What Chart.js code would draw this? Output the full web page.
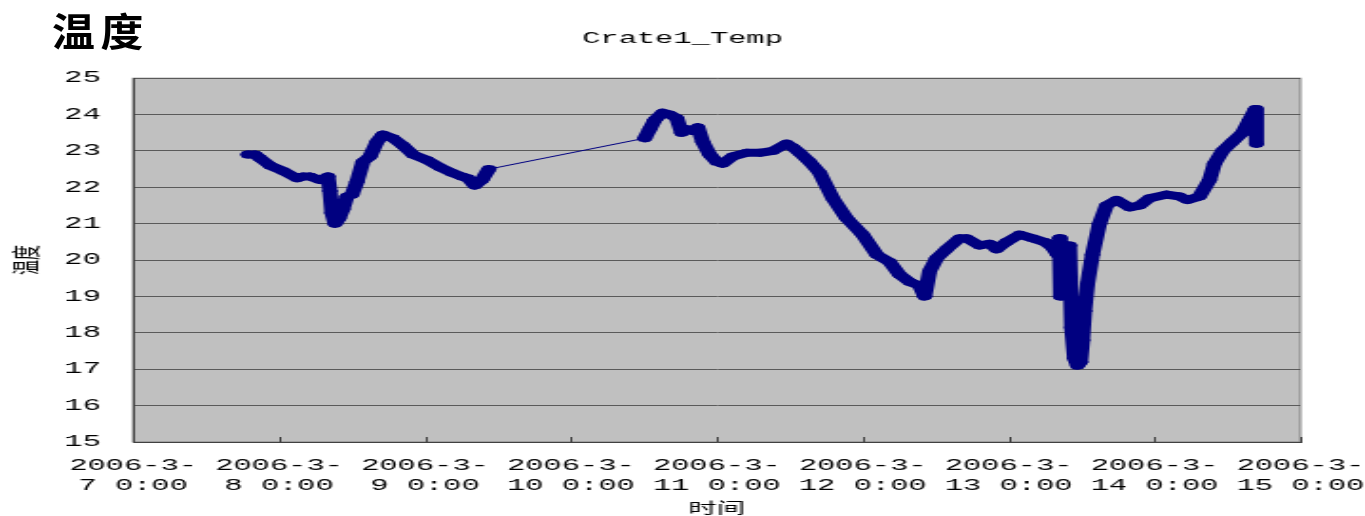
<!DOCTYPE html>
<html>
<head>
<meta charset="utf-8">
<script src="https://cdn.jsdelivr.net/npm/chart.js@4.4.1/dist/chart.umd.min.js"></script>
<style>
  body { margin: 0; background: #fff; }
  #wrap { position: relative; width: 1365px; height: 516px; overflow: hidden; }
  #bigTitle {
    position: absolute; left: 52px; top: 10px;
    font: 700 39px "Noto Sans CJK SC", sans-serif; line-height: 1;
    letter-spacing: 5px; color: #000;
    transform: scaleX(1.1); transform-origin: left top;
  }
</style>
</head>
<body>
<div id="wrap">
  <canvas id="chart" width="718" height="516" style="width:1365px;height:516px;display:block"></canvas>
  <div id="bigTitle">温度</div>
</div>
<script>
// x axis: days of March 2006 (fraction of day), y: temperature
const tickLabels = ['2006-3-7 0:00', '2006-3-8 0:00', '2006-3-9 0:00', '2006-3-10 0:00', '2006-3-11 0:00',
  '2006-3-12 0:00', '2006-3-13 0:00', '2006-3-14 0:00', '2006-3-15 0:00'];

const times = [7.788, 7.836, 7.870, 7.938, 8.027, 8.123, 8.164, 8.212, 8.281, 8.336,
  8.349, 8.363, 8.384, 8.411, 8.438, 8.466, 8.500, 8.534, 8.575, 8.623,
  8.671, 8.712, 8.781, 8.849, 8.918, 9.014, 9.103, 9.185, 9.253, 9.295,
  9.342, 9.390, 9.438,
  10.507, 10.541, 10.575, 10.630, 10.678, 10.726, 10.760, 10.795, 10.836, 10.870,
  10.904, 10.952, 11.000, 11.041, 11.110, 11.205, 11.295, 11.384, 11.479, 11.521,
  11.568, 11.637, 11.705, 11.795, 11.890, 12.000, 12.096, 12.185, 12.253, 12.322,
  12.390, 12.425, 12.459, 12.507, 12.575, 12.664, 12.712, 12.801, 12.870, 12.918,
  12.986, 13.075, 13.164, 13.247, 13.301, 13.336, 13.349, 13.356, 13.384, 13.404,
  13.418, 13.432, 13.452, 13.473, 13.493, 13.507, 13.521, 13.541, 13.575, 13.623,
  13.671, 13.740, 13.829, 13.897, 13.966, 14.082, 14.171, 14.226, 14.308, 14.377,
  14.411, 14.466, 14.534, 14.603, 14.651, 14.692, 14.699];

const temps = [22.9, 22.9, 22.8, 22.6, 22.45, 22.25, 22.3, 22.3, 22.2, 22.3,
  21.9, 21.3, 21.0, 21.15, 21.4, 21.75, 21.8, 22.15, 22.7, 22.85,
  23.25, 23.45, 23.35, 23.15, 22.9, 22.75, 22.55, 22.4, 22.3, 22.25,
  22.05, 22.2, 22.5,
  23.35, 23.6, 23.85, 24.05, 24.0, 23.9, 23.5, 23.6, 23.55, 23.65,
  23.25, 22.9, 22.7, 22.65, 22.85, 22.95, 22.95, 23.0, 23.2, 23.1,
  22.95, 22.7, 22.4, 21.7, 21.15, 20.7, 20.15, 19.95, 19.6, 19.4,
  19.3, 19.0, 19.7, 20.05, 20.3, 20.6, 20.6, 20.4, 20.45, 20.3,
  20.5, 20.7, 20.6, 20.5, 20.35, 20.15, 20.6, 19.0, 19.8, 19.15,
  20.4, 18.15, 17.3, 17.1, 17.2, 17.8, 18.6, 19.35, 20.15, 21.0,
  21.5, 21.65, 21.45, 21.5, 21.7, 21.8, 21.75, 21.65, 21.75, 22.2,
  22.65, 23.0, 23.25, 23.5, 23.85, 24.15, 23.2];

const points = times.map((t, i) => ({ x: t, y: temps[i] }));
const mono = 'Liberation Mono';

// grey plot area, border and the little inner ticks on the x axis
const plotArea = {
  id: 'plotArea',
  beforeDraw(chart) {
    const { ctx, chartArea: a } = chart;
    ctx.save();
    ctx.fillStyle = '#c0c0c0';
    ctx.fillRect(a.left, a.top, a.right - a.left, a.bottom - a.top);
    ctx.strokeStyle = '#808080';
    ctx.lineWidth = 1;
    ctx.strokeRect(a.left, a.top, a.right - a.left, a.bottom - a.top);
    ctx.restore();
  },
  afterDraw(chart) {
    const { ctx, chartArea: a, scales } = chart;
    ctx.save();
    ctx.strokeStyle = '#404040';
    ctx.lineWidth = 1;
    scales.x.ticks.forEach(t => {
      const px = Math.round(scales.x.getPixelForValue(t.value)) + 0.5;
      ctx.beginPath();
      ctx.moveTo(px, a.bottom);
      ctx.lineTo(px, a.bottom - 5);
      ctx.stroke();
    });
    ctx.restore();
  }
};

new Chart(document.getElementById('chart'), {
  type: 'line',
  data: {
    datasets: [{
      label: 'Crate1_Temp',
      data: points,
      borderColor: '#000080',
      backgroundColor: '#000080',
      borderWidth: 8,
      borderJoinStyle: 'round',
      borderCapStyle: 'round',
      pointStyle: 'star',
      pointRadius: 4,
      pointBorderWidth: 2,
      pointBorderColor: '#000080',
      tension: 0,
      segment: {
        borderWidth: c => (c.p1.parsed.x - c.p0.parsed.x > 0.5 ? 1 : 8)
      }
    }]
  },
  options: {
    responsive: false,
    devicePixelRatio: 1,
    animation: false,
    layout: { padding: 0 },
    plugins: {
      legend: { display: false },
      tooltip: { enabled: false },
      title: {
        display: true,
        text: 'Crate1_Temp',
        color: '#000',
        font: { family: mono, size: 16, weight: 'normal', lineHeight: 1.2 },
        padding: { top: 29, bottom: 30 }
      }
    },
    scales: {
      x: {
        type: 'linear',
        min: 7,
        max: 15,
        afterFit: (s) => { s.height = 74; s.paddingRight = 34; s.paddingLeft = 0; },
        grid: { display: true, drawOnChartArea: false, drawTicks: false },
        border: { display: true, color: '#404040', width: 1 },
        ticks: {
          stepSize: 1,
          autoSkip: false,
          maxRotation: 0,
          padding: 14,
          color: '#000',
          font: { family: mono, size: 16, lineHeight: 1.25 },
          callback: (v) => {
            const s = tickLabels[Math.round(v) - 7];
            return [s.slice(0, 7), s.slice(7)];
          }
        },
        title: {
          display: true,
          text: '时间',
          color: '#000',
          font: { family: 'Noto Sans CJK SC', size: 15, lineHeight: 1.2 },
          padding: { top: 4, bottom: 0 }
        }
      },
      y: {
        min: 15,
        max: 25,
        afterFit: (s) => { s.width = 70; },
        grid: { color: '#5a5a5a', lineWidth: 1, drawTicks: false },
        border: { display: true, color: '#404040', width: 1 },
        ticks: {
          stepSize: 1,
          padding: 17,
          color: '#000',
          font: { family: mono, size: 16 }
        },
        title: {
          display: true,
          text: '温度',
          color: '#000',
          font: { family: 'Noto Sans CJK SC', size: 15, lineHeight: 1.2 },
          padding: { top: 4, bottom: 0 }
        }
      }
    }
  },
  plugins: [plotArea]
});
</script>
</body>
</html>
